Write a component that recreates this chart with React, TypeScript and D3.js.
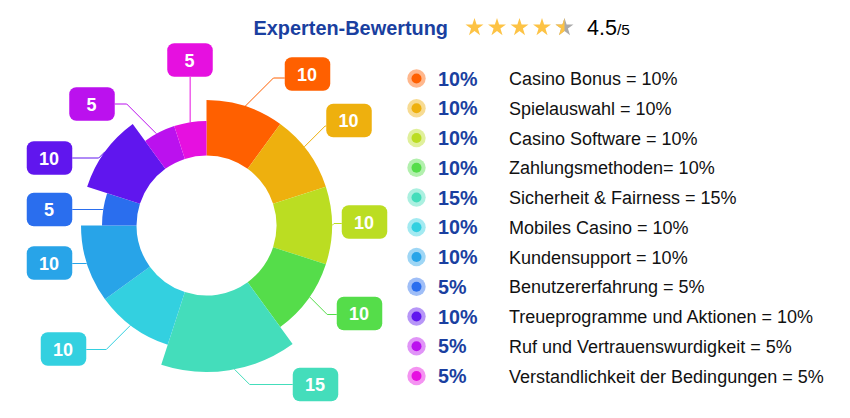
import React from "react";
import * as d3 from "d3";

const names = [
  "Casino Bonus = 10%",
  "Spielauswahl = 10%",
  "Casino Software = 10%",
  "Zahlungsmethoden= 10%",
  "Sicherheit & Fairness = 15%",
  "Mobiles Casino = 10%",
  "Kundensupport = 10%",
  "Benutzererfahrung = 5%",
  "Treueprogramme und Aktionen = 10%",
  "Ruf und Vertrauenswurdigkeit = 5%",
  "Verstandlichkeit der Bedingungen = 5%",
];
const values = [10, 10, 10, 10, 15, 10, 10, 5, 10, 5, 5];
const colors = [
  "#ff6000", "#eeb00e", "#bbdd22", "#55dd4a", "#44ddbb", "#33d0e0",
  "#28a4e8", "#2a6eee", "#6016ee", "#bb11ee", "#e610e0",
];
const rating = 4.5;
const ratingMax = 5;

// label box centres, the y where the leader joins the box,
// and how far (degrees) the leader start sits from the slice middle
const labelX = [307.5, 349, 364.5, 359.5, 315.5, 63.5, 49.5, 49.5, 49.5, 92, 190];
const labelY = [74, 120.5, 222, 313.5, 384.5, 349, 263, 209.5, 158, 104, 60];
const joinY = [78, 126, 223.5, 314.5, 384.5, 349.5, 263.5, 209.5, 158, 104, 77];
const leaderShift = [0, -2.8, 0, -1.3, -2, 1.3, 0, 0, 0, -1.6, 0];

const W = 850;
const H = 418;
const cx = 206.5;
const cy = 225.5;
const boxW = 45.5;
const boxH = 33.5;
const font = "'Liberation Sans', Arial, sans-serif";
const navy = "#1a3fa0";

const radius = d3.scaleLinear().domain([5, 15]).range([104.5, 146.5]);
const pie = d3.pie<number>().sort(null)(values);
const arc = d3.arc<d3.PieArcDatum<number>>()
  .innerRadius(70)
  .outerRadius((d) => radius(d.data));
const legendY = d3.scalePoint<number>()
  .domain(d3.range(names.length))
  .range([78.5, 376]);
const starX = d3.scalePoint<number>()
  .domain(d3.range(ratingMax))
  .range([474.5, 564.5]);
const star = d3.symbol().type(d3.symbolStar).size(100)()!;

function leader(i: number) {
  const d = pie[i];
  const a = (d.startAngle + d.endAngle) / 2 + (leaderShift[i] * Math.PI) / 180;
  const r = radius(d.data);
  const x0 = cx + r * Math.sin(a);
  const y0 = cy - r * Math.cos(a);
  const above = Math.abs(labelX[i] - x0) < boxW / 2;
  if (above) {
    return d3.line()([[x0, y0], [x0, joinY[i]]]) as string;
  }
  const right = labelX[i] > x0;
  const xEnd = labelX[i] + (right ? -boxW / 2 : boxW / 2);
  const dy = Math.abs(joinY[i] - y0);
  const xMid = x0 + (right ? dy : -dy);
  return d3.line()([[x0, y0], [xMid, joinY[i]], [xEnd, joinY[i]]]) as string;
}

export default function App() {
  return (
    <svg
      width={W}
      height={H}
      style={{ position: "absolute", left: 0, top: 0, background: "#fff" }}
      fontFamily={font}
    >
      <defs>
        <clipPath id="half">
          <rect x={-12} y={-12} width={12} height={24} />
        </clipPath>
      </defs>

      <text x={253.5} y={34.5} fontSize={19.9} fontWeight="bold" fill={navy}>
        Experten-Bewertung
      </text>
      {d3.range(ratingMax).map((i) => (
        <g key={i} transform={`translate(${starX(i)},27.5)`}>
          <path d={star} fill={i + 1 <= rating ? "#fdc345" : "#aaaaaa"} />
          {i < rating && i + 1 > rating && (
            <path d={star} fill="#fdc345" clipPath="url(#half)" />
          )}
        </g>
      ))}
      <text x={587} y={34.5} fontSize={21.5} fill="#000">
        {rating}
        <tspan fontSize={15.5}>/{ratingMax}</tspan>
      </text>

      <g transform={`translate(${cx},${cy})`}>
        {pie.map((d, i) => (
          <path key={i} d={arc(d) as string} fill={colors[i]} />
        ))}
      </g>

      {pie.map((d, i) => (
        <g key={i}>
          <path d={leader(i)} fill="none" stroke={colors[i]} strokeWidth={1} />
          <rect
            x={labelX[i] - boxW / 2}
            y={labelY[i] - boxH / 2}
            width={boxW}
            height={boxH}
            rx={7}
            fill={colors[i]}
          />
          <text
            x={labelX[i] - 0.5}
            y={labelY[i] + 6.5}
            textAnchor="middle"
            fontSize={18}
            fontWeight="bold"
            fill="#fff"
          >
            {d.data}
          </text>
        </g>
      ))}

      {names.map((name, i) => {
        const y = legendY(i) as number;
        return (
          <g key={name}>
            <circle cx={416.5} cy={y} r={9.2} fill={colors[i]} opacity={0.45} />
            <circle cx={416.5} cy={y} r={5} fill={colors[i]} />
            <text x={438} y={y + 7} fontSize={19.7} fontWeight="bold" fill={navy}>
              {values[i]}%
            </text>
            <text x={509} y={y + 6.5} fontSize={18} fill="#111">
              {name}
            </text>
          </g>
        );
      })}
    </svg>
  );
}
